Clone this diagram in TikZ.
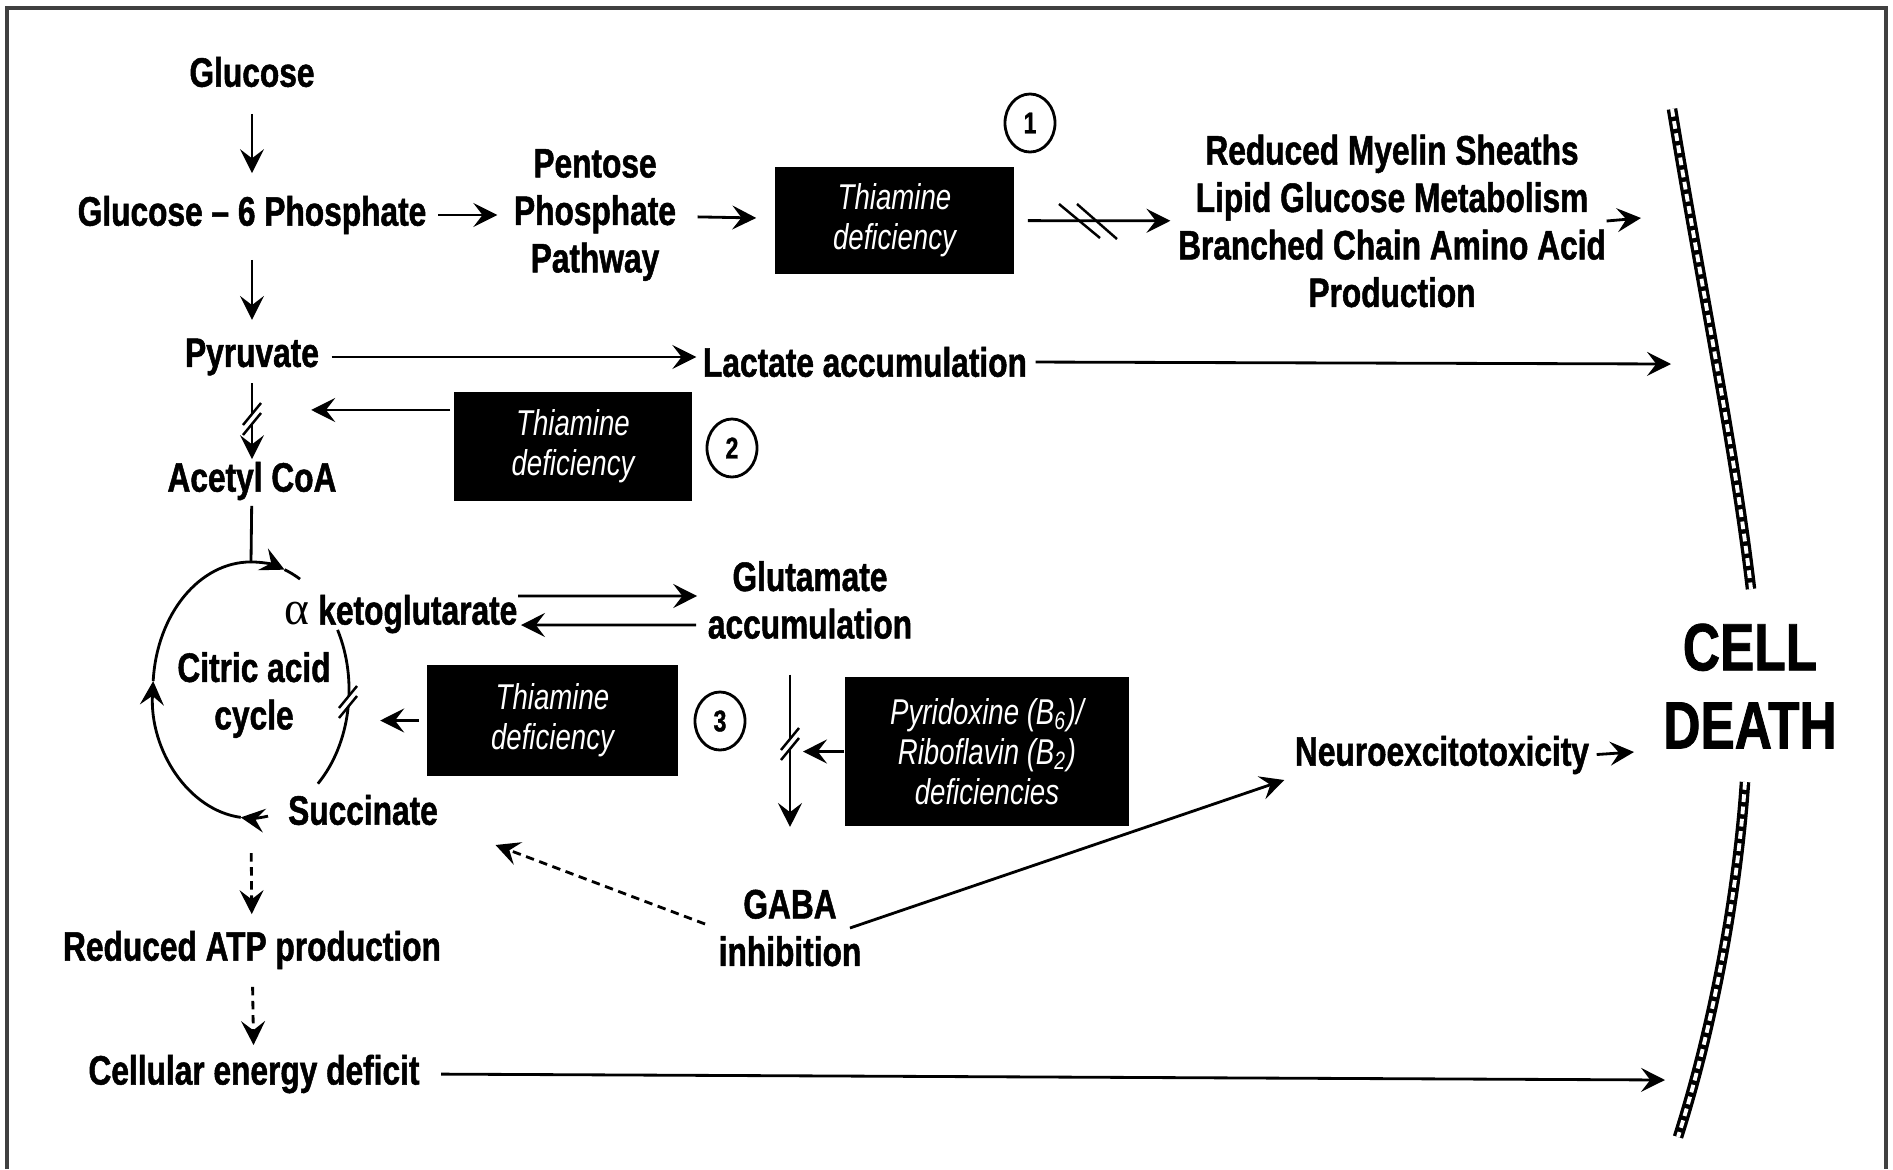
\documentclass[tikz,border=0pt]{standalone}
\usepackage{fontspec}
\setmainfont{Liberation Sans}[FakeStretch=0.77, BoldFeatures={FakeBold=1.2}]
\newfontfamily\alphafont{Liberation Serif}
\usetikzlibrary{arrows.meta,shapes.geometric,calc}
\begin{document}
\begin{tikzpicture}[x=0.01cm,y=-0.01cm,
  txt/.style={font=\fontsize{11.7pt}{13.5pt}\selectfont\bfseries, inner sep=0pt, align=center},
  blk/.style={fill=black, text=white, font=\fontsize{10.2pt}{11.4pt}\selectfont\itshape, align=center, inner sep=0pt},
  numc/.style={draw, ellipse, line width=0.8pt, minimum width=0.5cm, minimum height=0.58cm, inner sep=0pt, font=\fontsize{8.5pt}{10pt}\selectfont\bfseries},
  big/.style={font=\fontsize{19pt}{22.2pt}\selectfont\bfseries, inner sep=0pt, align=center},
  arr/.style={line width=0.8pt, -{Stealth[length=6.8pt,width=6.8pt,inset=2.6pt]}},
  darr/.style={arr, dash pattern=on 2.4pt off 1.6pt},
  ln/.style={line width=0.8pt},
  er/.style={x radius=0.98cm, y radius=1.28cm},
  memb/.style={line width=3pt, postaction={draw=white, line width=1.1pt, dash pattern=on 2.2pt off 1.3pt}},
  brk/.pic={\fill[white] (-9,6) -- (9,-16) -- (9,-6) -- (-9,16) -- cycle;
            \draw[line width=0.7pt] (-9,6) -- (9,-16) (-9,16) -- (9,-6);}
]
\useasboundingbox (0,0) rectangle (1893,1169);
\draw[gray!50!black, line width=0.9pt] (7,1169) -- (7,8) -- (1886,8) -- (1886,1169);

% nodes
\node[txt] (glc) at (252,72) {Glucose};
\node[txt] (g6p) at (252,215) {Glucose -- 6 Phosphate};
\node[txt] (ppp) at (595,215) {Pentose\\Phosphate\\Pathway};
\node[blk, minimum width=2.39cm, minimum height=1.07cm] (th1) at (894.5,220.5) {Thiamine\\deficiency};
\node[numc] (c1) at (1030,123) {1};
\node[txt] (mye) at (1392,221) {Reduced Myelin Sheaths\\Lipid Glucose Metabolism\\Branched Chain Amino Acid\\Production};
\node[txt] (pyr) at (252,357) {Pyruvate};
\node[txt] (lact) at (865,362) {Lactate accumulation};
\node[blk, minimum width=2.38cm, minimum height=1.09cm] (th2) at (573,446.5) {Thiamine\\deficiency};
\node[numc] (c2) at (732,448) {2};
\node[txt] (acoa) at (252,481) {Acetyl CoA};
\node[txt] (akg) at (401,614) {{\alphafont\mdseries\fontsize{13.5pt}{13.5pt}\selectfont α} ketoglutarate};
\node[txt] (glu) at (810,600) {Glutamate\\accumulation};
\node[txt] (cit) at (254,695) {Citric acid\\cycle};
\node[blk, minimum width=2.51cm, minimum height=1.11cm] (th3) at (552.5,720.5) {Thiamine\\deficiency};
\node[numc] (c3) at (720,721) {3};
\node[txt] (succ) at (363,810) {Succinate};
\node[blk, minimum width=2.84cm, minimum height=1.49cm] (pyb) at (987,751.5) {Pyridoxine (B\textsubscript{6})/\\Riboflavin (B\textsubscript{2})\\deficiencies};
\node[txt] (gaba) at (790,928) {GABA\\inhibition};
\node[txt] (neuro) at (1442,755) {Neuroexcitotoxicity};
\node[big] (cd) at (1750,686) {CELL\\DEATH};
\node[txt] (atp) at (252,950) {Reduced ATP production};
\node[txt] (ced) at (254,1074) {Cellular energy deficit};

% membrane
\draw[memb] (1672,109) .. controls (1700,280) and (1735,450) .. (1751,589);
\draw[memb] (1745,782) .. controls (1737,900) and (1712,1030) .. (1678,1137);
\coordinate (m0) at (1641,218);
\coordinate (m1) at (1671,364);
\coordinate (m2) at (1634,752);
\coordinate (m3) at (1665,1080);

% cycle
\coordinate (cyc) at (251,690);
\coordinate (ctop) at ([yshift=1.28cm]cyc);
\coordinate (cbot) at ([yshift=-1.28cm]cyc);
\draw[arr] ([shift={(90:0.98cm and 1.28cm)}]cyc) arc[start angle=90, end angle=70, er];
\draw[ln] ([shift={(70:0.98cm and 1.28cm)}]cyc) arc[start angle=70, end angle=60, er];
\draw[ln] ([shift={(28:0.98cm and 1.28cm)}]cyc) arc[start angle=28, end angle=-47, er];
\draw[arr] ([shift={(-80:0.98cm and 1.28cm)}]cyc) arc[start angle=-80, end angle=-96, er];
\draw[arr] ([shift={(-96:0.98cm and 1.28cm)}]cyc) arc[start angle=-96, end angle=-184, er];
\draw[ln] ([shift={(-184:0.98cm and 1.28cm)}]cyc) arc[start angle=-184, end angle=-270, er];

% connectors
\draw[arr, shorten <=0.26cm, shorten >=0.22cm] (glc) -- (g6p);
\draw[arr, shorten <=0.11cm, shorten >=0.16cm] (g6p) -- (ppp);
\draw[arr, shorten <=0.21cm, shorten >=0.18cm] (ppp) -- (th1);
\draw[arr, shorten <=0.13cm, shorten >=0.07cm] (th1) -- (mye);
\draw[arr] (mye.east) -- (m0);
\draw[arr, shorten <=0.25cm, shorten >=0.18cm] (g6p) -- (pyr);
\draw[arr, shorten <=0.12cm, shorten >=0.06cm] (pyr) -- (pyr -| lact.west);
\draw[arr, shorten <=0.08cm] (lact.east) -- (m1);
\draw[arr, shorten <=0.07cm, shorten >=0.02cm] (pyr) -- (acoa);
\draw[arr, shorten <=0.03cm] ([yshift=0.365cm]th2.west) -- ++(-142,0);
\draw[ln, shorten <=0.05cm] (acoa) -- (ctop);
\draw[arr, shorten >=0.10cm] ([yshift=0.18cm]akg.east) -- ([yshift=0.04cm]glu.west);
\draw[arr, shorten <=0.11cm, shorten >=0.03cm] ([yshift=-0.25cm]glu.west) -- ([yshift=-0.11cm]akg.east);
\draw[arr, shorten <=0.07cm] (th3.west) -- ++(-46,0);
\draw[arr, shorten <=0.35cm, shorten >=0.62cm] (gaba |- glu.south) -- (gaba);
\draw[arr, shorten >=0.13cm] (pyb.west) -- (pyb.west -| gaba);
\draw[darr] ([shift={(-13,-4)}]gaba.west) -- ([shift={(57,35)}]succ.east);
\draw[arr] ([xshift=-0.12cm]gaba.east) -- ([shift={(-10,25)}]neuro.west);
\draw[arr, shorten <=0.07cm] (neuro.east) -- (m2);
\draw[darr, shorten <=0.35cm, shorten >=0.16cm] (cbot) -- (atp);
\draw[darr, shorten <=0.17cm, shorten >=0.09cm] (atp) -- (ced);
\draw[arr, shorten <=0.21cm] (ced.east) -- (m3);

% break marks
\pic at (252,419) {brk};
\pic at (790,744) {brk};
\pic at (348,702) {brk};
\draw[line width=0.7pt] (1059,204) -- (1100,238) (1077,204) -- (1117,239);
\end{tikzpicture}
\end{document}
